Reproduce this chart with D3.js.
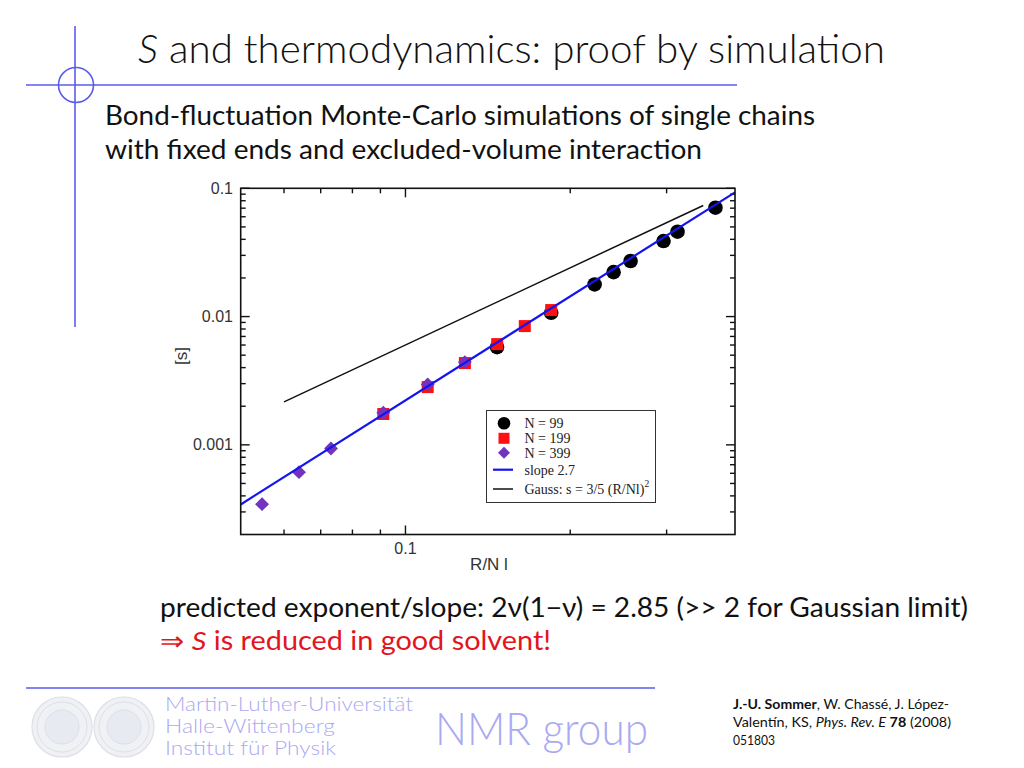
<!DOCTYPE html>
<html><head><meta charset="utf-8">
<script src="https://cdn.jsdelivr.net/npm/d3@7"></script>
<style>html,body{margin:0;padding:0;background:#fff;} svg{display:block;}</style>
</head><body>
<svg id="c" width="1024" height="768"></svg>
<script>
// ---- data ----
const n99X  = [0.147, 0.1846, 0.2216, 0.240, 0.2578, 0.2961, 0.3141, 0.3684];
const n99S  = [0.00578, 0.0107, 0.0178, 0.0222, 0.0271, 0.0388, 0.0459, 0.0706];
const n199X = [0.0911, 0.1098, 0.1284, 0.1471, 0.1652, 0.1846];
const n199S = [0.00174, 0.00282, 0.00434, 0.0061, 0.00843, 0.01124];
const n399X = [0.0547, 0.0639, 0.0731, 0.0911, 0.1098, 0.1284];
const n399S = [0.000345, 0.000612, 0.000937, 0.00178, 0.00296, 0.00442];
const slopeLineX = [0.05, 0.4];
const slopeLineS = [0.000343, 0.093];
const gaussLineX = [0.06, 0.35];
const gaussLineS = [0.00216, 0.0735];
const xMajorTicks = [0.1];
const xMinorTicks = [0.06, 0.07, 0.08, 0.09, 0.2, 0.3];
const yMajorTicks = [0.001, 0.01, 0.1];
const yMinorTicks = [0.0003,0.0004,0.0005,0.0006,0.0007,0.0008,0.0009,
                     0.002,0.003,0.004,0.005,0.006,0.007,0.008,0.009,
                     0.02,0.03,0.04,0.05,0.06,0.07,0.08,0.09];
const xTickLabels = ["0.1"];
const yTickLabels = ["0.001", "0.01", "0.1"];
const legendLabels = ["N = 99", "N = 199", "N = 399", "slope 2.7", "Gauss: s = 3/5 (R/Nl)"];

const svg = d3.select("#c");
const slideBlue = "#5c5cec";
const paleBlue = "#a9a9f2";

// ---- slide decoration ----
svg.append("line").attr("x1",75).attr("x2",75).attr("y1",26).attr("y2",327)
  .attr("stroke",slideBlue).attr("stroke-width",1.6);
svg.append("line").attr("x1",26).attr("x2",737).attr("y1",85).attr("y2",85)
  .attr("stroke",slideBlue).attr("stroke-width",1.6);
svg.append("circle").attr("cx",76).attr("cy",85).attr("r",17.5)
  .attr("fill","none").attr("stroke",slideBlue).attr("stroke-width",1.6);

function fitText(x, y, w, size, family, color, parts, weight){
  const t = svg.append("text").attr("x",x).attr("y",y)
    .attr("font-family",family).attr("font-size",size).attr("fill",color)
    .attr("textLength",w).attr("lengthAdjust","spacingAndGlyphs");
  if (weight) t.attr("font-weight",weight);
  parts.forEach(p=>{
    const s = t.append("tspan").text(p.t);
    if (p.i) s.attr("font-style","italic");
    if (p.b) s.attr("font-weight","bold");
    if (p.c) s.attr("fill",p.c);
  });
  return t;
}
const slideFont = "Lato, 'Open Sans', sans-serif";
fitText(138, 63, 747, 40, slideFont, "#111", [{t:"S",i:1},{t:" and thermodynamics: proof by simulation"}], 300);
fitText(105, 125, 710, 26, slideFont, "#111", [{t:"Bond-fluctuation Monte-Carlo simulations of single chains"}]);
fitText(105, 159, 597, 26, slideFont, "#111", [{t:"with fixed ends and excluded-volume interaction"}]);
fitText(160, 617, 808, 26, slideFont, "#111", [{t:"predicted exponent/slope: 2ν(1−ν) = 2.85 (>> 2 for Gaussian limit)"}]);
fitText(160, 650, 391, 26, slideFont, "#e3141c", [{t:"⇒ "},{t:"S",i:1},{t:" is reduced in good solvent!"}]);

// footer
svg.append("line").attr("x1",26).attr("x2",655).attr("y1",688).attr("y2",688)
  .attr("stroke",slideBlue).attr("stroke-width",1.6);
[[62,727],[124,727]].forEach(c=>{
  const g = svg.append("g").attr("opacity",0.55);
  g.append("circle").attr("cx",c[0]).attr("cy",c[1]).attr("r",30).attr("fill","#e4e6ee").attr("stroke","#c3c6d6").attr("stroke-width",1.2);
  g.append("circle").attr("cx",c[0]).attr("cy",c[1]).attr("r",25).attr("fill","none").attr("stroke","#c3c6d6").attr("stroke-width",1);
  g.append("circle").attr("cx",c[0]).attr("cy",c[1]).attr("r",17).attr("fill","#d6d9e6").attr("stroke","#c3c6d6").attr("stroke-width",1);
});
fitText(165, 711, 248, 20, slideFont, paleBlue, [{t:"Martin-Luther-Universität"}], 300);
fitText(165, 733, 170, 20, slideFont, paleBlue, [{t:"Halle-Wittenberg"}], 300);
fitText(165, 755, 171, 20, slideFont, paleBlue, [{t:"Institut für Physik"}], 300);
fitText(435, 745, 213, 46, slideFont, paleBlue, [{t:"NMR group"}], 300);
const citeFont = "Lato, 'Open Sans', sans-serif";
fitText(733, 709, 216, 12.5, citeFont, "#111", [{t:"J.-U. Sommer",b:1},{t:", W. Chassé, J. López-"}]);
fitText(733, 727, 218, 12.5, citeFont, "#111", [{t:"Valentín, KS, "},{t:"Phys. Rev. E",i:1},{t:" "},{t:"78",b:1},{t:" (2008)"}]);
fitText(733, 745, 42, 12.5, citeFont, "#111", [{t:"051803"}]);

// ---- chart ----
const L = 240.7, R = 735, T = 188.3, B = 534.5;
const x = d3.scaleLog().domain([0.05, 0.4]).range([L, R]);
const y = d3.scaleLog().domain([0.0002, 0.1]).range([B, T]);

const ax = svg.append("g").attr("stroke","#111").attr("stroke-width",1.4);
const majL = 9, minL = 5;
xMajorTicks.concat(xMinorTicks).forEach(v=>{
  const len = xMajorTicks.includes(v) ? majL : minL;
  ax.append("line").attr("x1",x(v)).attr("x2",x(v)).attr("y1",B).attr("y2",B-len);
  ax.append("line").attr("x1",x(v)).attr("x2",x(v)).attr("y1",T).attr("y2",T+len);
});
yMajorTicks.concat(yMinorTicks).forEach(v=>{
  const len = yMajorTicks.includes(v) ? majL : minL;
  ax.append("line").attr("y1",y(v)).attr("y2",y(v)).attr("x1",L).attr("x2",L+len);
  ax.append("line").attr("y1",y(v)).attr("y2",y(v)).attr("x1",R).attr("x2",R-len);
});

const axisFont = "'Liberation Sans', Arial, sans-serif";
xMajorTicks.forEach((v,i)=>{
  svg.append("text").attr("x",x(v)).attr("y",554).attr("text-anchor","middle")
    .attr("font-family",axisFont).attr("font-size",16).attr("fill","#333").text(xTickLabels[i]);
});
yMajorTicks.forEach((v,i)=>{
  svg.append("text").attr("x",233).attr("y",y(v)+5.5).attr("text-anchor","end")
    .attr("font-family",axisFont).attr("font-size",16).attr("fill","#333").text(yTickLabels[i]);
});
svg.append("text").attr("x",489).attr("y",570).attr("text-anchor","middle")
  .attr("font-family",axisFont).attr("font-size",17).attr("fill","#333").text("R/N l");
svg.append("text").attr("transform","translate(187,356) rotate(-90)").attr("text-anchor","middle")
  .attr("font-family",axisFont).attr("font-size",17).attr("fill","#333").text("[s]");

// markers
const plot = svg.append("g");
const purple = "#7233bf", red = "#ff1010", blue = "#1414f0";
n99X.forEach((v,i)=>{
  plot.append("circle").attr("cx",x(v)).attr("cy",y(n99S[i])).attr("r",7.3).attr("fill","#000");
});
n199X.forEach((v,i)=>{
  plot.append("rect").attr("x",x(v)-6).attr("y",y(n199S[i])-6).attr("width",12).attr("height",12).attr("fill",red);
});
n399X.forEach((v,i)=>{
  plot.append("path").attr("d", d3.symbol().type(d3.symbolSquare).size(96)())
    .attr("transform",`translate(${x(v)},${y(n399S[i])}) rotate(45)`).attr("fill",purple);
});

const line = d3.line().x(d=>x(d[0])).y(d=>y(d[1]));
plot.append("path").attr("d",line(slopeLineX.map((v,i)=>[v,slopeLineS[i]])))
  .attr("stroke",blue).attr("stroke-width",2.2).attr("fill","none");
plot.append("path").attr("d",line(gaussLineX.map((v,i)=>[v,gaussLineS[i]])))
  .attr("stroke","#111").attr("stroke-width",1.5).attr("fill","none");

// frame
svg.append("rect").attr("x",L).attr("y",T).attr("width",R-L).attr("height",B-T)
  .attr("fill","none").attr("stroke","#111").attr("stroke-width",1.6);

// legend
const lg = svg.append("g");
lg.append("rect").attr("x",486.5).attr("y",410.5).attr("width",169).attr("height",92)
  .attr("fill","#fff").attr("stroke","#333").attr("stroke-width",1);
const lx = 504, ly = [423.3, 438.3, 452.7, 469.7, 489];
lg.append("circle").attr("cx",lx).attr("cy",ly[0]).attr("r",6.3).attr("fill","#000");
lg.append("rect").attr("x",lx-5.5).attr("y",ly[1]-5.5).attr("width",11).attr("height",11).attr("fill",red);
lg.append("path").attr("d", d3.symbol().type(d3.symbolSquare).size(72)())
  .attr("transform",`translate(${lx},${ly[2]}) rotate(45)`).attr("fill",purple);
lg.append("line").attr("x1",493).attr("x2",513).attr("y1",ly[3]).attr("y2",ly[3]).attr("stroke",blue).attr("stroke-width",2.2);
lg.append("line").attr("x1",493).attr("x2",513).attr("y1",ly[4]).attr("y2",ly[4]).attr("stroke","#111").attr("stroke-width",1.5);
const legFont = "'Liberation Serif', 'Times New Roman', serif";
legendLabels.forEach((s,i)=>{
  const t = lg.append("text").attr("x",524.5).attr("y",ly[i]+5)
    .attr("font-family",legFont).attr("font-size",14).attr("fill","#222").text(s);
  if (i===4) t.append("tspan").attr("dy",-7).attr("font-size",9.5).text("2");
});
</script>
</body></html>
